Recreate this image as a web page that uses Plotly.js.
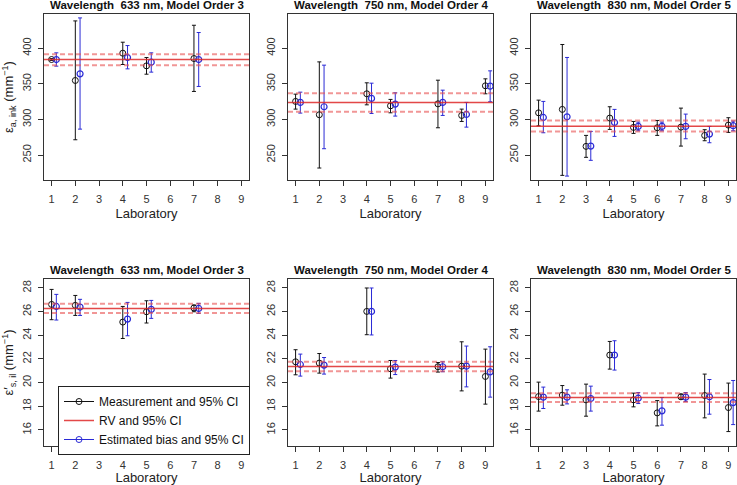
<!DOCTYPE html>
<html>
<head>
<meta charset="utf-8">
<script src="https://cdn.plot.ly/plotly-3.0.1.min.js"></script>
<style>
  html, body { margin: 0; padding: 0; background: #fff; }
  #chart { width: 737px; height: 485px; }
</style>
</head>
<body>
<div id="chart"></div>
<script>
// absorption (top row) -- 633 nm, order 3
const labsA633 = [1, 2, 4, 5, 7];
const measA633 = [384.1, 354.7, 393.0, 375.2, 385.5];
const measA633Lo = [382.8, 271.5, 377.1, 363.5, 339.3];
const measA633Hi = [385.4, 438.3, 408.4, 386.9, 432.2];
const biasA633 = [384.1, 364.0, 386.9, 380.4, 384.1];
const biasA633Lo = [374.8, 286.4, 371.0, 366.4, 346.3];
const biasA633Hi = [393.5, 442.5, 403.7, 393.5, 422.0];
const rvA633 = [384.1, 376.2, 391.6]; // value, lower, upper

// 750 nm, order 4
const labsA750 = [1, 2, 4, 5, 7, 8, 9];
const measA750 = [325.3, 306.6, 336.0, 319.1, 321.9, 305.6, 347.2];
const measA750Lo = [314.5, 231.8, 320.5, 309.3, 288.3, 297.2, 336.0];
const measA750Hi = [335.5, 380.8, 351.4, 328.1, 355.1, 314.5, 357.0];
const biasA750 = [323.9, 317.8, 329.5, 321.5, 323.9, 307.0, 346.7];
const biasA750Lo = [308.9, 258.9, 308.4, 304.7, 305.6, 289.2, 324.8];
const biasA750Hi = [338.3, 376.2, 350.9, 337.4, 341.1, 323.9, 368.2];
const rvA750 = [323.9, 310.7, 336.9];

// 830 nm, order 5
const labsA830 = [1, 2, 3, 4, 5, 6, 7, 8, 9];
const measA830 = [309.3, 314.1, 262.2, 301.9, 288.8, 288.3, 289.2, 277.6, 292.1];
const measA830Lo = [291.0, 221.5, 246.8, 286.0, 280.4, 277.6, 262.6, 270.1, 281.8];
const measA830Hi = [327.1, 405.2, 277.6, 317.8, 297.2, 298.6, 315.9, 285.6, 302.4];
const biasA830 = [302.8, 303.7, 262.6, 295.8, 290.2, 290.2, 290.2, 279.4, 291.2];
const biasA830Lo = [281.3, 220.5, 242.6, 276.2, 284.1, 284.1, 272.9, 267.3, 284.1];
const biasA830Hi = [325.3, 387.0, 283.2, 314.1, 296.3, 296.3, 307.5, 290.2, 297.7];
const rvA830 = [290.6, 283.2, 298.6];

// reduced scattering (bottom row)
const labsS633 = [1, 2, 4, 5, 7];
const measS633 = [26.61, 26.53, 25.12, 25.99, 26.31];
const measS633Lo = [25.32, 25.68, 23.73, 25.04, 25.99];
const measS633Hi = [27.88, 27.37, 26.44, 26.92, 26.56];
const biasS633 = [26.44, 26.39, 25.37, 26.19, 26.27];
const biasS633Lo = [25.29, 25.68, 23.96, 25.43, 25.85];
const biasS633Hi = [27.46, 27.04, 26.78, 26.95, 26.70];
const rvS633 = [26.27, 25.88, 26.67];

const labsS750 = [1, 2, 4, 5, 7, 8, 9];
const measS750 = [21.76, 21.65, 26.02, 21.17, 21.34, 21.39, 20.52];
const measS750Lo = [20.66, 20.80, 24.05, 20.38, 20.89, 19.30, 18.18];
const measS750Hi = [22.78, 22.46, 28.00, 21.87, 21.70, 23.45, 22.83];
const biasS750 = [21.53, 21.48, 26.02, 21.31, 21.34, 21.39, 20.91];
const biasS750Lo = [20.55, 20.72, 24.03, 20.68, 20.92, 19.64, 18.77];
const biasS750Hi = [22.41, 22.12, 28.00, 21.87, 21.76, 23.09, 23.03];
const rvS750 = [21.36, 20.97, 21.76];

const labsS830 = [1, 2, 3, 4, 5, 6, 7, 8, 9];
const measS830 = [18.82, 18.94, 18.54, 22.33, 18.54, 17.44, 18.80, 18.91, 17.89];
const measS830Lo = [17.59, 18.09, 17.16, 21.14, 17.95, 16.34, 18.60, 17.02, 15.86];
const measS830Hi = [20.04, 19.75, 19.87, 23.48, 19.11, 18.48, 19.03, 20.72, 19.96];
const biasS830 = [18.77, 18.77, 18.65, 22.33, 18.68, 17.61, 18.77, 18.80, 18.31];
const biasS830Lo = [17.81, 18.20, 17.59, 21.06, 18.23, 16.40, 18.40, 17.33, 16.45];
const biasS830Hi = [19.62, 19.39, 19.70, 23.54, 19.16, 18.74, 19.16, 20.26, 20.18];
const rvS830 = [18.74, 18.37, 19.11];

const panelTitles = [
  'Wavelength\u00a0 633 nm, Model Order 3',
  'Wavelength\u00a0 750 nm, Model Order 4',
  'Wavelength\u00a0 830 nm, Model Order 5'
];
const labTicks = [1, 2, 3, 4, 5, 6, 7, 8, 9];
const absTicks = [250, 300, 350, 400];
const scatTicks = [16, 18, 20, 22, 24, 26, 28];
const legendNames = ['Measurement and 95% CI', 'RV and 95% CI', 'Estimated bias and 95% CI'];
const biasShift = 0.2;

const BLACK = '#111';
const BLUE = '#2a2ad6';
const RED = 'rgba(222,40,40,0.85)';
const PINK = 'rgba(232,80,80,0.6)';
const FONT = 'Liberation Sans, Arial, sans-serif';

const panels = [
  { labs: labsA633, m: measA633, mLo: measA633Lo, mHi: measA633Hi, b: biasA633, bLo: biasA633Lo, bHi: biasA633Hi, rv: rvA633 },
  { labs: labsA750, m: measA750, mLo: measA750Lo, mHi: measA750Hi, b: biasA750, bLo: biasA750Lo, bHi: biasA750Hi, rv: rvA750 },
  { labs: labsA830, m: measA830, mLo: measA830Lo, mHi: measA830Hi, b: biasA830, bLo: biasA830Lo, bHi: biasA830Hi, rv: rvA830 },
  { labs: labsS633, m: measS633, mLo: measS633Lo, mHi: measS633Hi, b: biasS633, bLo: biasS633Lo, bHi: biasS633Hi, rv: rvS633 },
  { labs: labsS750, m: measS750, mLo: measS750Lo, mHi: measS750Hi, b: biasS750, bLo: biasS750Lo, bHi: biasS750Hi, rv: rvS750 },
  { labs: labsS830, m: measS830, mLo: measS830Lo, mHi: measS830Hi, b: biasS830, bLo: biasS830Lo, bHi: biasS830Hi, rv: rvS830 }
];

// plot box positions in px (width 737, height 485)
const colPx = [[44, 249], [288, 493], [531, 736]];
const rowPx = [[14, 180], [279, 446]];
const W = 737, H = 485;

function errBar(v, lo, hi, color) {
  return {
    type: 'data', symmetric: false,
    array: hi.map((h, i) => h - v[i]),
    arrayminus: lo.map((l, i) => v[i] - l),
    color: color, thickness: 1, width: 2
  };
}

const traces = [];
const shapes = [];
const annotations = [];
const layout = {
  width: W, height: H,
  margin: { l: 0, r: 0, t: 0, b: 0 },
  paper_bgcolor: '#fff', plot_bgcolor: '#fff',
  font: { family: FONT, size: 11, color: '#222' },
  showlegend: true,
  legend: {
    x: 58 / W, y: 1 - 455 / H, xanchor: 'left', yanchor: 'bottom',
    bgcolor: '#fff', bordercolor: '#222', borderwidth: 1,
    font: { family: FONT, size: 12, color: '#111' },
    itemwidth: 30, tracegroupgap: 0
  }
};

panels.forEach((p, i) => {
  const row = Math.floor(i / 3), col = i % 3;
  const n = i + 1;
  const xa = 'x' + (n === 1 ? '' : n), ya = 'y' + (n === 1 ? '' : n);
  const xKey = 'xaxis' + (n === 1 ? '' : n), yKey = 'yaxis' + (n === 1 ? '' : n);

  traces.push({
    x: p.labs, y: p.m, xaxis: xa, yaxis: ya, type: 'scatter', mode: 'markers',
    marker: { symbol: 'circle-open', size: 6, color: BLACK, line: { width: 1 } },
    error_y: errBar(p.m, p.mLo, p.mHi, BLACK), showlegend: false, hoverinfo: 'skip'
  });
  traces.push({
    x: p.labs.map(l => l + biasShift), y: p.b, xaxis: xa, yaxis: ya, type: 'scatter', mode: 'markers',
    marker: { symbol: 'circle-open', size: 6, color: BLUE, line: { width: 1.2 } },
    error_y: errBar(p.b, p.bLo, p.bHi, BLUE), showlegend: false, hoverinfo: 'skip'
  });

  // reference value and its CI across the whole panel
  shapes.push({ type: 'line', xref: xa + ' domain', yref: ya, x0: 0, x1: 1, y0: p.rv[0], y1: p.rv[0],
    line: { color: RED, width: 1.5 } });
  [p.rv[1], p.rv[2]].forEach(v => shapes.push({ type: 'line', xref: xa + ' domain', yref: ya, x0: 0, x1: 1,
    y0: v, y1: v, line: { color: PINK, width: 2, dash: '5px,3px' } }));

  const yDom = [1 - rowPx[row][1] / H, 1 - rowPx[row][0] / H];
  layout[xKey] = {
    domain: [colPx[col][0] / W, colPx[col][1] / W], anchor: ya,
    range: [0.68, 9.32], tickvals: labTicks, ticks: 'outside', ticklen: 5, tickcolor: '#333',
    showline: true, mirror: true, linecolor: '#333', linewidth: 1,
    showgrid: false, zeroline: false, ticklabelstandoff: 4,
    tickfont: { size: 11, color: '#333' },
    title: { text: 'Laboratory', font: { size: 13, color: '#222' }, standoff: 4 }
  };
  layout[yKey] = {
    domain: yDom, anchor: xa,
    range: row === 0 ? [215, 448] : [14.64, 28.76],
    tickvals: row === 0 ? absTicks : scatTicks, tickangle: -90,
    ticks: 'outside', ticklen: 5, tickcolor: '#333',
    showline: true, mirror: true, linecolor: '#333', linewidth: 1,
    showgrid: false, zeroline: false, ticklabelstandoff: 3,
    tickfont: { size: 11, color: '#333' }
  };
  if (col === 0) {
    layout[yKey].title = {
      text: row === 0 ? 'ε<sub>a, ink</sub> (mm<sup>−1</sup>)' : 'ε′<sub>s, il</sub> (mm<sup>−1</sup>)',
      font: { size: 13, color: '#222' }, standoff: 4
    };
  }

  annotations.push({
    xref: 'paper', yref: 'paper', xanchor: 'center',
    x: (colPx[col][0] + colPx[col][1]) / 2 / W, y: yDom[1], yanchor: 'bottom', yshift: 1,
    text: '<b>' + panelTitles[col] + '</b>', showarrow: false,
    font: { family: FONT, size: 11.5, color: '#111' }
  });
});

// legend entries
traces.push({ x: [null], y: [null], type: 'scatter', mode: 'lines+markers', name: legendNames[0],
  line: { color: BLACK, width: 1 }, marker: { symbol: 'circle-open', size: 6, color: BLACK } });
traces.push({ x: [null], y: [null], type: 'scatter', mode: 'lines', name: legendNames[1],
  line: { color: RED, width: 1.5 } });
traces.push({ x: [null], y: [null], type: 'scatter', mode: 'lines+markers', name: legendNames[2],
  line: { color: BLUE, width: 1 }, marker: { symbol: 'circle-open', size: 6, color: BLUE } });

layout.shapes = shapes;
layout.annotations = annotations;

Plotly.newPlot('chart', traces, layout, { displayModeBar: false, staticPlot: true });
</script>
</body>
</html>
